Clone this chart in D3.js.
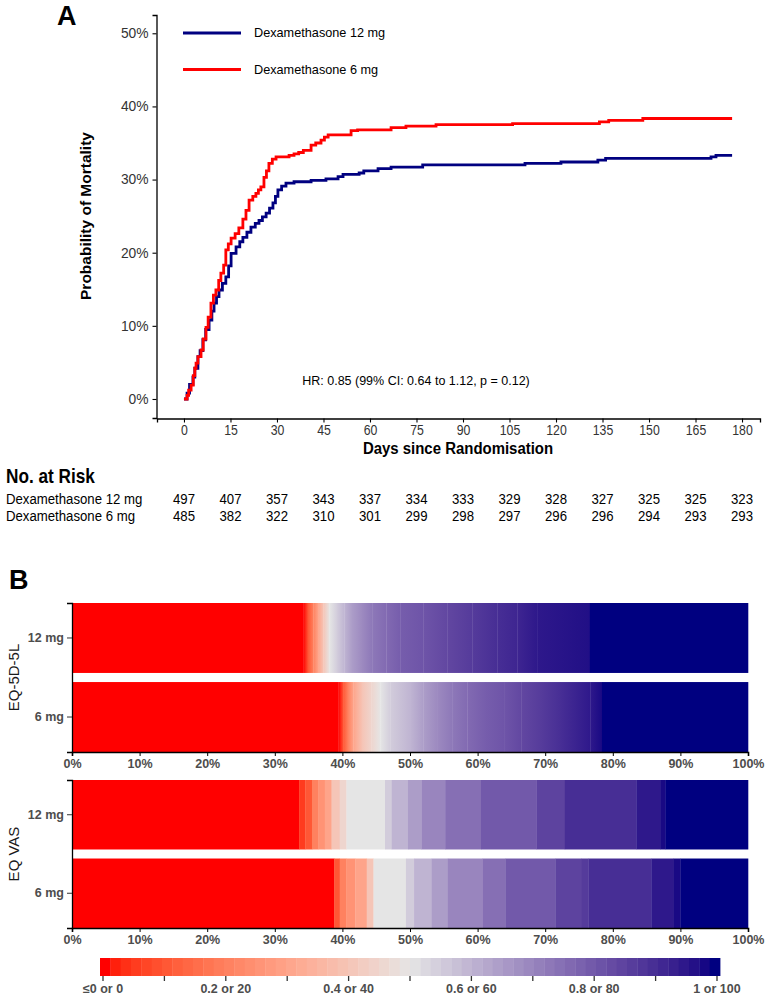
<!DOCTYPE html>
<html>
<head>
<meta charset="utf-8">
<script src="https://cdn.jsdelivr.net/npm/d3@7"></script>
<style>
    body { margin: 0; background: #fff; }
    svg { display: block; font-family: "Liberation Sans", Arial, sans-serif; }
</style>
</head>
<body>
<div id="chart"></div>
<script>
// ---------- panel A: cumulative mortality (step curves) ----------
const days12 = [0, 1, 1.8, 2.9, 3.5, 4.5, 5.2, 6.1, 7, 8.1, 9, 9.7, 10.5, 11.3, 12.4, 13.5, 14.4, 15.2, 16.8, 18,
    19, 20.3, 21.6, 23, 24.2, 25.3, 26.5, 27.6, 28.7, 29.5, 30.3, 31.5, 32.9, 35.5, 41, 45.8, 49.7, 51.3, 56.5, 58,
    62.6, 66.8, 77, 110, 121.6, 133.5, 136, 170, 171.6, 176.8];
const pct12 = [0, 0.8, 2, 3, 4.2, 5.8, 6.6, 8.1, 9.5, 10.8, 12, 13.1, 14, 14.9, 15.8, 16.7, 18.2, 19.9, 20.8, 21.5,
    22.1, 22.8, 23.5, 24, 24.4, 24.9, 25.4, 26.1, 26.8, 27.7, 28.6, 29.1, 29.5, 29.7, 29.9, 30.1, 30.4, 30.7, 30.9, 31.2,
    31.5, 31.7, 32.0, 32.2, 32.4, 32.65, 32.9, 33.1, 33.3, 33.3];

const days6 = [0, 1, 1.5, 2.3, 3, 3.5, 3.9, 4.5, 5.5, 6.2, 7.1, 7.8, 8.7, 9.5, 10.3, 11.2, 11.9, 12.8, 13.5, 14.3,
    15.2, 16.5, 17.7, 19, 20, 21, 22.2, 23.2, 24, 24.8, 25.8, 26.6, 27.4, 28.5, 29.7, 33.9, 35.5, 37, 38.5, 41,
    42.5, 44.2, 45.3, 46.5, 53.9, 56, 66.8, 71.6, 81.3, 106, 134, 137, 148, 176.8];
const pct6 = [0, 0.5, 1.2, 1.9, 3.2, 4.2, 4.9, 5.8, 6.7, 8.2, 9.8, 11.2, 13.1, 14.2, 14.9, 16.2, 17.2, 18.3, 20.4, 21.2,
    22, 22.6, 23.4, 24.6, 25.8, 27.2, 27.7, 28.1, 28.6, 29, 30.3, 31.2, 32.2, 32.8, 33.1, 33.3, 33.5, 33.7, 34, 34.7,
    35, 35.4, 35.8, 36.1, 36.7, 36.8, 37.1, 37.3, 37.5, 37.66, 37.9, 38.1, 38.35, 38.35];

const dayTicks = [0, 15, 30, 45, 60, 75, 90, 105, 120, 135, 150, 165, 180];
const pctTicks = [0, 10, 20, 30, 40, 50];
const risk12 = [497, 407, 357, 343, 337, 334, 333, 329, 328, 327, 325, 325, 323];
const risk6 = [485, 382, 322, 310, 301, 299, 298, 297, 296, 296, 294, 293, 293];

const arms = ["Dexamethasone 12 mg", "Dexamethasone 6 mg"];
const armColors = ["#000080", "#ff0000"];
const hrText = "HR: 0.85 (99% CI: 0.64 to 1.12, p = 0.12)";

// ---------- panel B: utility distribution (value level -> cumulative % of patients) ----------
const groups = ["12 mg", "6 mg"];
const measures = ["EQ-5D-5L", "EQ VAS"];

const lev5d12 = [0, 0.1, 0.2, 0.3, 0.4, 0.5, 0.55, 0.6, 0.65, 0.69, 0.73, 0.76, 0.79, 0.81, 0.84, 0.87, 0.9, 0.92, 0.95, 0.97, 1];
const cum5d12 = [34.2, 34.9, 35.7, 36.4, 37.2, 38.1, 39.2, 40.3, 41.4, 42.9, 44.4, 46.5, 48.6, 52.0, 55.5, 59.2, 62.9, 65.9, 68.8, 76.6, 100];

const lev5d6 = [0, 0.1, 0.2, 0.3, 0.4, 0.45, 0.5, 0.55, 0.6, 0.65, 0.69, 0.73, 0.76, 0.79, 0.81, 0.84, 0.87, 0.9, 0.95, 0.98, 1];
const cum5d6 = [39.4, 40.1, 40.8, 41.6, 43.0, 44.3, 45.6, 47.1, 50.1, 52.0, 54.0, 56.3, 58.5, 61.2, 64.0, 66.5, 69.5, 72.3, 76.7, 78.4, 100];

const levVas12 = [0, 0.05, 0.1, 0.2, 0.25, 0.3, 0.4, 0.45, 0.5, 0.55, 0.6, 0.65, 0.7, 0.75, 0.8, 0.85, 0.9, 0.95, 0.98, 1];
const cumVas12 = [33.6, 34.5, 35.5, 36.4, 37.4, 38.4, 39.6, 40.6, 46.3, 47.3, 49.7, 51.7, 55.2, 60.5, 68.7, 72.9, 83.5, 87.0, 87.8, 100];

const levVas6 = [0, 0.1, 0.2, 0.25, 0.3, 0.4, 0.5, 0.55, 0.6, 0.65, 0.7, 0.75, 0.8, 0.85, 0.87, 0.9, 0.95, 0.98, 1];
const cumVas6 = [38.8, 39.6, 40.6, 41.9, 43.6, 44.6, 49.4, 50.6, 53.2, 55.6, 60.7, 64.1, 71.5, 75.4, 76.4, 85.7, 89.0, 90.0, 100];

const legendTicks = [0, 0.1, 0.2, 0.3, 0.4, 0.5, 0.6, 0.7, 0.8, 0.9, 1];
const legendLabels = ["\u22640 or 0", "0.2 or 20", "0.4 or 40", "0.6 or 60", "0.8 or 80", "1 or 100"];

// horizontal squeeze used for the condensed-looking texts
const NARROW = 0.82;

const svg = d3.select("#chart").append("svg")
    .attr("width", 767)
    .attr("height", 996);

svg.append("rect").attr("width", 767).attr("height", 996).attr("fill", "#fff");
const defs = svg.append("defs");

drawSurvival();
drawUtility();


function narrowText(parent, x, y, txt, squeeze = NARROW) {
    return parent.append("text")
        .attr("transform", `translate(${x},${y}) scale(${squeeze},1)`)
        .text(txt);
}

function drawSurvival() {
    let x = d3.scaleLinear().domain([-8.7, 185.8]).range([157, 760]);
    let y = d3.scaleLinear().domain([-2.6, 52.5]).range([418, 15]);

    svg.append("text")
        .attr("x", 57).attr("y", 25)
        .attr("font-size", 27).attr("font-weight", "bold")
        .text("A");

    // axes
    let yAxis = svg.append("g")
        .attr("transform", "translate(156.5,0)")
        .call(d3.axisLeft(y).tickValues(pctTicks).tickFormat(d => d + "%").tickSize(4).tickPadding(4));
    yAxis.selectAll("text").attr("font-size", 13.8).attr("fill", "#333").attr("font-family", null);

    let xAxis = svg.append("g")
        .attr("transform", "translate(0,418.5)")
        .call(d3.axisBottom(x).tickValues(dayTicks).tickSize(4).tickPadding(2));
    xAxis.selectAll("text")
        .attr("font-size", 15).attr("fill", "#333").attr("font-family", null)
        .attr("transform", `scale(${NARROW},1)`);

    [yAxis, xAxis].forEach(g => {
        g.select(".domain").attr("stroke-width", 1.3);
        g.selectAll(".tick line").attr("stroke-width", 1.1);
    });

    narrowText(svg, 458, 454, "Days since Randomisation", 0.88)
        .attr("text-anchor", "middle")
        .attr("font-size", 17).attr("font-weight", "bold");

    svg.append("text")
        .attr("transform", "translate(91,216) rotate(-90)")
        .attr("text-anchor", "middle")
        .attr("font-size", 15.5).attr("font-weight", "bold")
        .text("Probability of Mortality");

    // step curves, 12 mg first so 6 mg sits on top
    let line = d3.line()
        .x(d => x(d[0]))
        .y(d => y(d[1]))
        .curve(d3.curveStepAfter);

    let series = [d3.zip(days12, pct12), d3.zip(days6, pct6)];
    svg.selectAll(".km-line")
        .data(series)
        .enter()
        .append("path")
        .attr("class", "km-line")
        .attr("d", line)
        .attr("fill", "none")
        .attr("stroke", (d, i) => armColors[i])
        .attr("stroke-width", 2.8);

    // legend
    let legend = svg.selectAll(".km-legend")
        .data(arms)
        .enter()
        .append("g")
        .attr("class", "km-legend")
        .attr("transform", (d, i) => `translate(183,${33 + i * 36.5})`);
    legend.append("line")
        .attr("x1", 0).attr("x2", 58)
        .attr("stroke", (d, i) => armColors[i])
        .attr("stroke-width", 2.8);
    legend.append("text")
        .attr("x", 71).attr("dy", "0.35em")
        .attr("font-size", 12.7)
        .text(d => d);

    svg.append("text")
        .attr("x", 416).attr("y", 385)
        .attr("text-anchor", "middle")
        .attr("font-size", 12.5)
        .text(hrText);

    // numbers at risk
    let table = svg.append("g");
    narrowText(table, 6, 483, "No. at Risk")
        .attr("font-size", 21).attr("font-weight", "bold");

    [risk12, risk6].forEach((row, i) => {
        let yy = 504 + i * 17;
        narrowText(table, 6, yy, arms[i], 0.88).attr("font-size", 15);
        row.forEach((n, j) => {
            narrowText(table, x(dayTicks[j]), yy, n, 0.88)
                .attr("text-anchor", "middle")
                .attr("font-size", 15);
        });
    });
}


function drawUtility() {
    let x = d3.scaleLinear().domain([0, 100]).range([72, 748]);
    let fill = d3.scaleLinear()
        .domain([0, 0.5, 1])
        .range(["#ff0000", "#e5e5e5", "#000080"])
        .interpolate(d3.interpolateLab)
        .clamp(true);

    svg.append("text")
        .attr("x", 9).attr("y", 589)
        .attr("font-size", 27).attr("font-weight", "bold")
        .text("B");

    // EQ-5D-5L takes near-continuous values, so its bands fade into each other
    let panels = [
        {name: measures[0], top: 603, bottom: 752, smooth: true, bars: [[lev5d12, cum5d12], [lev5d6, cum5d6]]},
        {name: measures[1], top: 780, bottom: 928, smooth: false, bars: [[levVas12, cumVas12], [levVas6, cumVas6]]}
    ];

    panels.forEach((p, pi) => {
        let yb = d3.scaleBand().domain(groups).range([p.top, p.bottom]).paddingInner(0.115);
        let g = svg.append("g");

        groups.forEach((grp, i) => {
            let lev = p.bars[i][0], cum = p.bars[i][1];
            let segs = lev.map((v, k) => ({
                v: v,
                prev: k === 0 ? v : lev[k - 1],
                x0: k === 0 ? 0 : cum[k - 1],
                x1: cum[k],
                last: k === lev.length - 1,
                id: `seg-${pi}-${i}-${k}`
            }));

            if (p.smooth) {
                let grads = defs.selectAll(".g-" + pi + "-" + i)
                    .data(segs.filter(d => d.prev !== d.v && !d.last))
                    .enter()
                    .append("linearGradient")
                    .attr("class", "g-" + pi + "-" + i)
                    .attr("id", d => d.id);
                grads.append("stop").attr("offset", "0%").attr("stop-color", d => fill(d.prev));
                grads.append("stop").attr("offset", "100%").attr("stop-color", d => fill(d.v));
            }

            g.selectAll(".seg-" + i)
                .data(segs)
                .enter()
                .append("rect")
                .attr("class", "seg-" + i)
                .attr("x", d => x(d.x0))
                .attr("width", d => x(d.x1) - x(d.x0) + 0.3)
                .attr("y", yb(grp))
                .attr("height", yb.bandwidth())
                .attr("fill", d => (p.smooth && d.prev !== d.v && !d.last) ? `url(#${d.id})` : fill(d.v));
        });

        let yAxis = g.append("g")
            .attr("transform", "translate(72,0)")
            .call(d3.axisLeft(yb).tickSize(5).tickPadding(3));
        yAxis.selectAll("text")
            .attr("font-size", 12.5).attr("font-weight", "bold")
            .attr("fill", "#4d4d4d").attr("font-family", null);
        yAxis.select(".domain").attr("stroke-width", 1.3);
        yAxis.selectAll(".tick line").attr("stroke", "#333");

        let xAxis = g.append("g")
            .attr("transform", `translate(0,${p.bottom})`)
            .call(d3.axisBottom(x).tickValues(d3.range(0, 101, 10)).tickFormat(d => d + "%").tickSize(4).tickPadding(3));
        xAxis.selectAll("text")
            .attr("font-size", 12.5).attr("font-weight", "bold")
            .attr("fill", "#4d4d4d").attr("font-family", null);
        xAxis.select(".domain").attr("stroke-width", 1.6);

        g.append("text")
            .attr("transform", `translate(19,${(p.top + p.bottom) / 2}) rotate(-90)`)
            .attr("text-anchor", "middle")
            .attr("font-size", 15)
            .attr("fill", "#1a1a1a")
            .text(p.name);
    });

    // colour bar legend
    let lx = d3.scaleLinear().domain([0, 1]).range([103, 717]);
    let nbin = 60;
    let bins = d3.range(nbin).map(i => i / (nbin - 1));
    let bw = (720 - 100) / nbin;
    svg.append("g")
        .selectAll("rect")
        .data(bins)
        .enter()
        .append("rect")
        .attr("x", (d, i) => 100 + i * bw)
        .attr("width", bw + 0.4)
        .attr("y", 958)
        .attr("height", 18)
        .attr("fill", d => fill(d));

    svg.append("g")
        .selectAll("line")
        .data(legendTicks)
        .enter()
        .append("line")
        .attr("x1", d => lx(d)).attr("x2", d => lx(d))
        .attr("y1", 976).attr("y2", 981)
        .attr("stroke", "#333")
        .attr("stroke-width", 1.3);

    svg.append("g")
        .selectAll("text")
        .data(legendLabels)
        .enter()
        .append("text")
        .attr("x", (d, i) => lx(i * 0.2))
        .attr("y", 993)
        .attr("text-anchor", "middle")
        .attr("font-size", 12.5).attr("font-weight", "bold")
        .attr("fill", "#4d4d4d")
        .text(d => d);
}
</script>
</body>
</html>
